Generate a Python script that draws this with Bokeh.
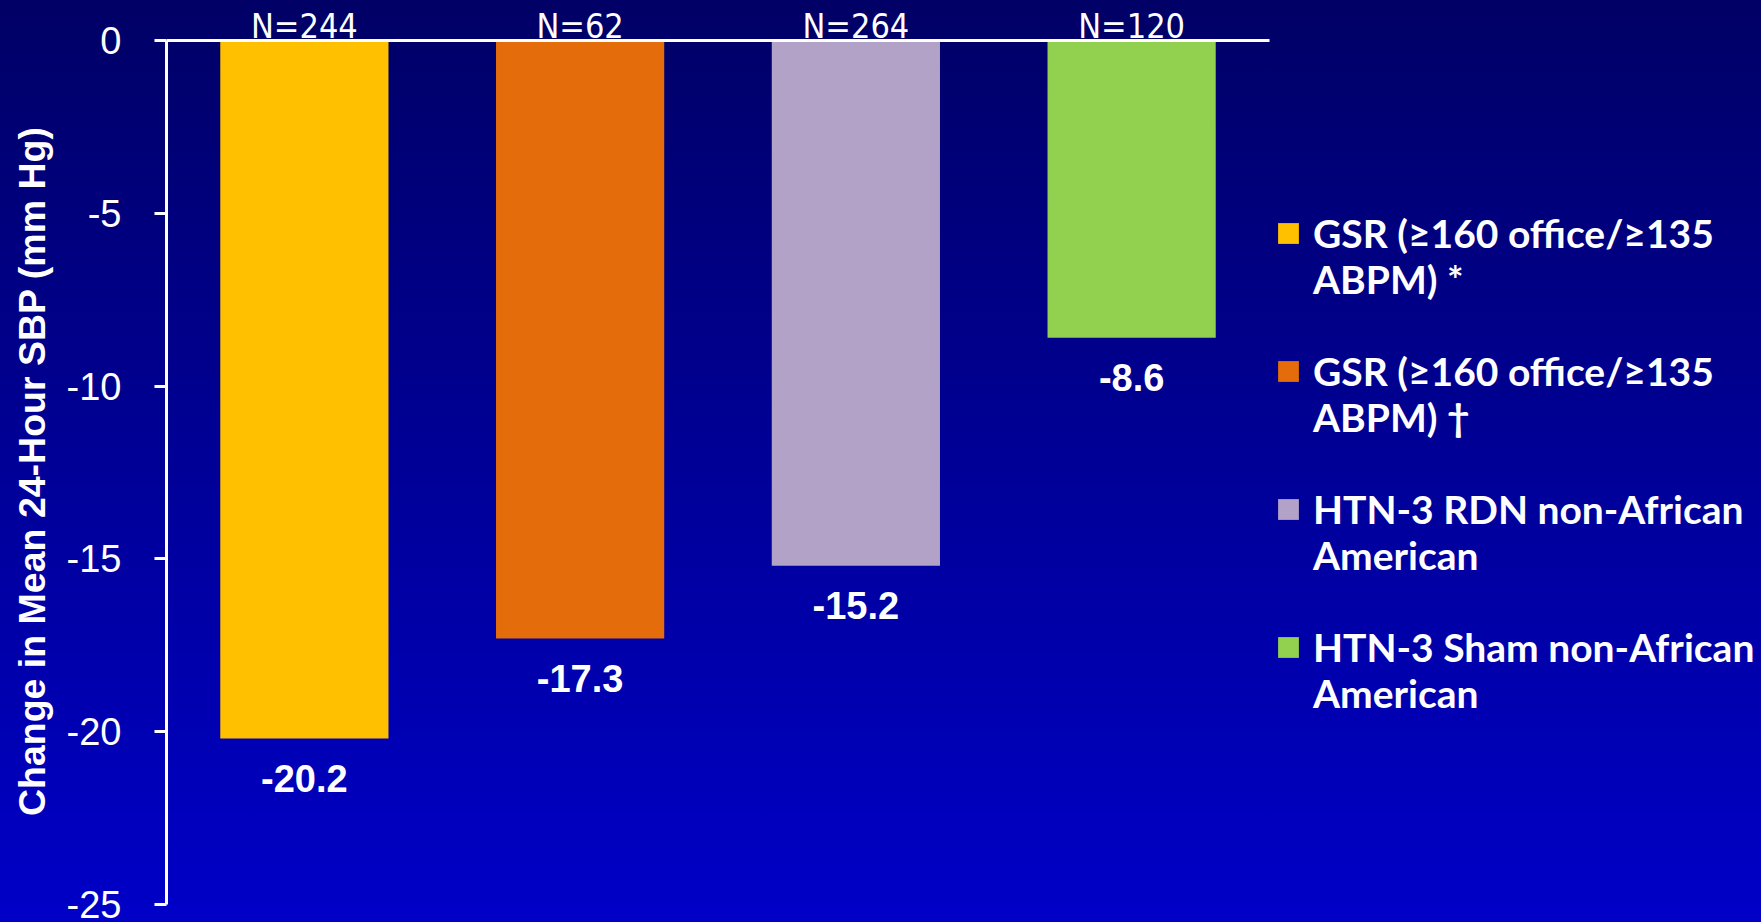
from bokeh.plotting import figure
from bokeh.models import (ColumnDataSource, Range1d, FixedTicker,
                          LabelSet, Legend, LegendItem)
from bokeh.core.properties import value
from bokeh.embed import file_html
from bokeh.resources import INLINE

# ---- data ----
groups = ["GSR ≥160 office*", "GSR ≥160 office†", "HTN-3 RDN", "HTN-3 Sham"]
legend_labels = ["GSR (≥160 office/≥135\nABPM) *",
                 "GSR (≥160 office/≥135\nABPM) †",
                 "HTN-3 RDN non-African\nAmerican",
                 "HTN-3 Sham non-African\nAmerican"]
changes = [-20.2, -17.3, -15.2, -8.6]
n_labels = ["N=244", "N=62", "N=264", "N=120"]
colors = ["#FFC000", "#E46C0A", "#B3A2C7", "#92D050"]
y_ticks = [0, -5, -10, -15, -20, -25]

n = len(groups)
src = ColumnDataSource(dict(
    group=groups, pos=[i + 0.5 for i in range(n)],
    change=changes, n=n_labels, color=colors,
    zero=[0] * n,
    change_label=[f"{v:.1f}" for v in changes],
))

# layout: category slots fill 1103 px of the 1595 px-wide plot area,
# the remainder holds the legend
W, H = 1761, 922
LEFT = 166
SLOT_PX = 1103 / n
x_end = (W - LEFT) / SLOT_PX

p = figure(width=W, height=H,
           x_range=Range1d(0, x_end),
           y_range=Range1d(-25, 40 / 34.56),
           x_axis_location=None,
           output_backend="svg", toolbar_location=None,
           min_border_left=LEFT, min_border_right=0,
           min_border_top=0, min_border_bottom=18)

p.background_fill_color = None
p.border_fill_color = None
p.outline_line_color = None
p.grid.visible = False
p.styles = {"background": "linear-gradient(to bottom, #000066 0%, #0000C8 100%)"}

r = p.vbar(x="pos", top="zero", bottom="change", width=0.61,
           color="color", line_color=None, source=src)

# y axis
ax = p.yaxis[0]
ax.ticker = FixedTicker(ticks=y_ticks)
ax.bounds = (min(y_ticks), max(y_ticks))
ax.major_label_overrides = {t: str(t) for t in y_ticks}
ax.major_label_text_font = "Liberation Sans"
ax.major_label_text_font_size = "38px"
ax.major_label_text_color = "white"
ax.major_label_standoff = 33
ax.axis_line_color = "white"
ax.axis_line_width = 3
ax.major_tick_line_color = "white"
ax.major_tick_line_width = 3
ax.major_tick_out = 12
ax.major_tick_in = 0
ax.minor_tick_line_color = None
ax.axis_label = "Change in Mean 24-Hour SBP (mm Hg)\u2003"
ax.axis_label_text_font = "Liberation Sans"
ax.axis_label_text_font_style = "bold"
ax.axis_label_text_font_size = "37.5px"
ax.axis_label_text_color = "white"
ax.axis_label_standoff = 11

# zero line across the category area only
p.segment(x0=[0], x1=[n], y0=[0], y1=[0], line_color="white", line_width=3)

# N labels above bars
p.add_layout(LabelSet(x="pos", y="zero", text="n", source=src,
                      text_align="center", text_baseline="alphabetic", y_offset=3,
                      text_font=value("DejaVu Sans Condensed, Liberation Sans"),
                      text_font_size="34px", text_color="white"))

# value labels below bars
p.add_layout(LabelSet(x="pos", y="change", text="change_label", source=src,
                      text_align="center", text_baseline="middle", y_offset=-40,
                      text_font=value("Liberation Sans"), text_font_style="bold",
                      text_font_size="38px", text_color="white"))

# legend to the right of the bars (leading blank line keeps the swatch on line 1)
legend = Legend(items=[LegendItem(label="\n" + legend_labels[i], renderers=[r], index=i)
                       for i in range(n)],
                location=(1109, 188), margin=0, padding=6, ncols=1,
                glyph_width=26, glyph_height=26, label_standoff=12,
                spacing=0,
                label_text_font="Lato", label_text_font_style="bold",
                label_text_font_size="39px", label_text_color="white",
                background_fill_alpha=0, border_line_color=None)
p.add_layout(legend)

open("out.html", "w").write(file_html(p, INLINE))
